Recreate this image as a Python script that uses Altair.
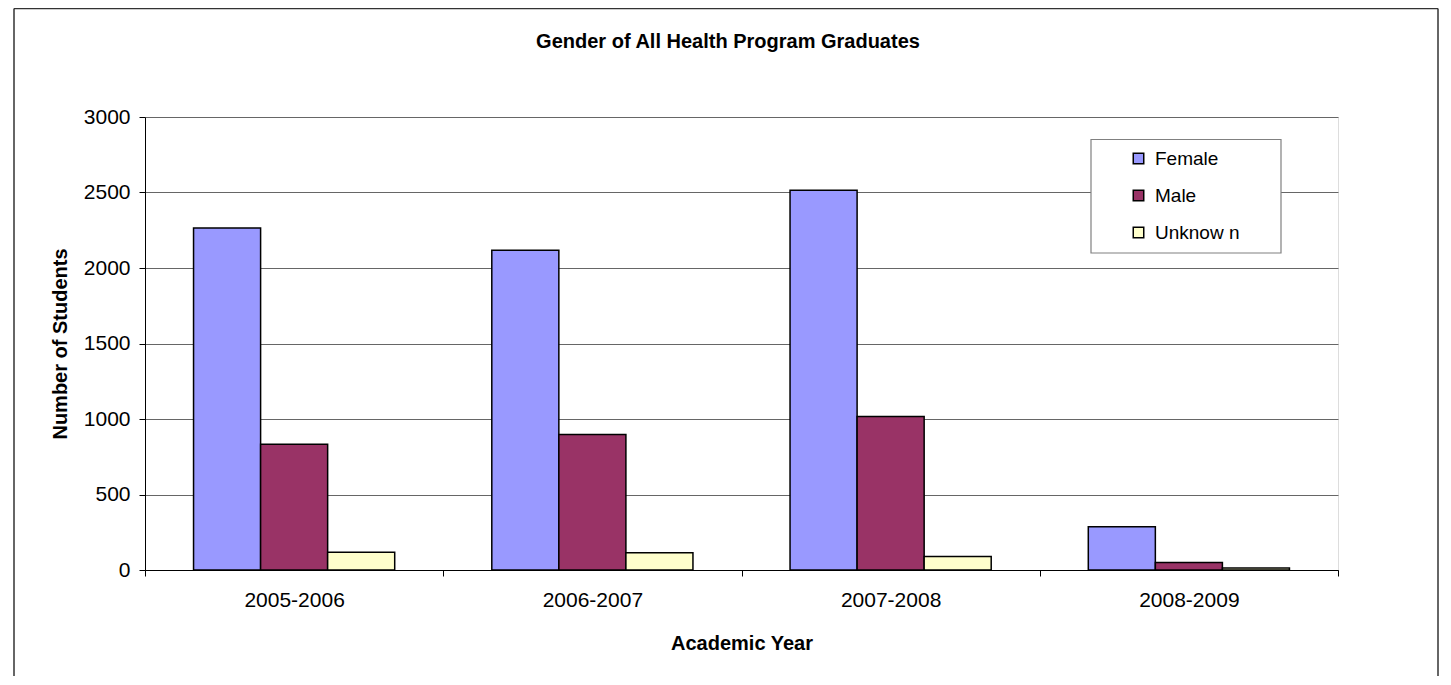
import altair as alt
import pandas as pd

years = ["2005-2006", "2006-2007", "2007-2008", "2008-2009"]
series = ["Female", "Male", "Unknow n"]
female = [2265, 2118, 2515, 287]
male = [832, 897, 1017, 50]
unknown = [118, 115, 90, 13]
colors = ["#9999FF", "#993366", "#FFFFCC"]
y_ticks = [0, 500, 1000, 1500, 2000, 2500, 3000]
chart_title = "Gender of All Health Program Graduates"

rows = []
for i, yr in enumerate(years):
    for s, vals in zip(series, [female, male, unknown]):
        rows.append({"Year": yr, "Gender": s, "Students": vals[i]})
df = pd.DataFrame(rows)

FONT = "Liberation Sans"
W, H = 1193, 453

bars = alt.Chart(df).mark_bar(stroke="black", strokeWidth=1.5).encode(
    x=alt.X("Year:N", sort=years,
            scale=alt.Scale(paddingInner=0, paddingOuter=0),
            axis=alt.Axis(title="Academic Year", labelAngle=0, tickBand="extent",
                          labelFontSize=21, labelFont=FONT, labelColor="black",
                          labelPadding=13, tickSize=6, tickColor="black",
                          domainColor="black", grid=False,
                          titleFont=FONT, titleFontSize=20, titleFontWeight="bold",
                          titleColor="black", titleX=W / 2, titleY=73,
                          titleBaseline="middle", titleAlign="center")),
    xOffset=alt.XOffset("Gender:N", sort=series,
                        scale=alt.Scale(paddingInner=0, paddingOuter=0.724)),
    y=alt.Y("Students:Q", scale=alt.Scale(domain=[0, 3000], nice=False),
            axis=alt.Axis(title="Number of Students", values=y_ticks, format="d",
                          labelFontSize=21, labelFont=FONT, labelColor="black",
                          labelPadding=9, tickSize=6, tickColor="black",
                          domainColor="black", gridColor="#666666", gridWidth=1,
                          titleFont=FONT, titleFontSize=20, titleFontWeight="bold",
                          titleColor="black", titleX=-85, titleY=H / 2,
                          titleAngle=270, titleAlign="center",
                          titleBaseline="middle")),
    color=alt.Color("Gender:N", sort=series,
                    scale=alt.Scale(domain=series, range=colors),
                    legend=alt.Legend(title=None, orient="none", legendX=946,
                                      legendY=23, symbolType="square",
                                      symbolSize=110, symbolStrokeColor="black",
                                      symbolStrokeWidth=1.5, symbolOpacity=1,
                                      labelFontSize=19, labelFont=FONT,
                                      labelColor="black", rowPadding=17,
                                      padding=9, symbolOffset=29,
                                      labelOffset=7)),
)

frame_df = pd.DataFrame({"k": [0]})
legend_box = alt.Chart(frame_df).mark_rect(
    fill="white", stroke="#808080", strokeWidth=1.2).encode(
    x=alt.value(946), x2=alt.value(1136), y=alt.value(22.5), y2=alt.value(136))
left = alt.Chart(frame_df).mark_rule(color="#333333", strokeWidth=1.5).encode(
    x=alt.value(-131), y=alt.value(-108.5), y2=alt.value(560))
right = alt.Chart(frame_df).mark_rule(color="#333333", strokeWidth=1.5).encode(
    x=alt.value(1293), y=alt.value(-108.5), y2=alt.value(560))
top = alt.Chart(frame_df).mark_rule(color="#333333", strokeWidth=1.5).encode(
    x=alt.value(-131), x2=alt.value(1293), y=alt.value(-108.5))
title = alt.Chart(frame_df).mark_text(
    font=FONT, fontSize=20, fontWeight="bold", color="black",
    align="center", baseline="middle").encode(
    x=alt.value(583), y=alt.value(-75), text=alt.value(chart_title))

chart = alt.layer(bars, legend_box, left, right, top, title).properties(
    width=W, height=H,
    autosize=alt.AutoSizeParams(type="none"),
    padding={"left": 137, "top": 109, "right": 102, "bottom": 106},
).configure_view(stroke="#666666", strokeWidth=1).configure(background="white")

chart.save("out.html", embed_options={"renderer": "svg", "actions": False})
